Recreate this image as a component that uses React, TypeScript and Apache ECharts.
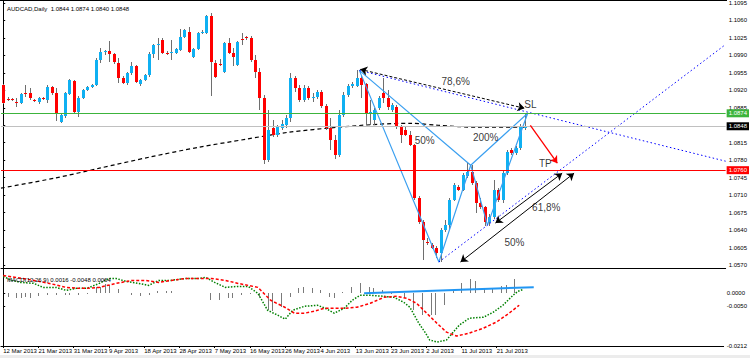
import React, { useEffect, useRef } from 'react';
import * as echarts from 'echarts';

const FONT = 'Liberation Sans, Arial, sans-serif';
const symbolTitle = 'AUDCAD,Daily  1.0844 1.0874 1.0840 1.0848';
const macdTitle = 'MACD(12,26,9) 0.0016 -0.0048 0.0064';

const dateLabels = ['12 Mar 2013', '21 Mar 2013', '31 Mar 2013', '9 Apr 2013', '18 Apr 2013', '28 Apr 2013', '7 May 2013', '16 May 2013', '26 May 2013', '4 Jun 2013', '13 Jun 2013', '23 Jun 2013', '2 Jul 2013', '11 Jul 2013', '21 Jul 2013'];
const dateTickIndex = [0, 8, 16, 24, 32, 40, 48, 56, 64, 72, 80, 88, 96, 104, 112];
const priceTicks = [1.0570, 1.0605, 1.0640, 1.0675, 1.0710, 1.0745, 1.0780, 1.0815, 1.0850, 1.0885, 1.0920, 1.0955, 1.0990, 1.1025, 1.1060, 1.1095];
const macdTicks = [0, -0.0050, -0.0212];

const opens = [1.0930, 1.0902, 1.0902, 1.0896, 1.0894, 1.0914, 1.0914, 1.0900, 1.0896, 1.0904,
  1.0900, 1.0926, 1.0914, 1.0856, 1.0868, 1.0912, 1.0938, 1.0876, 1.0904, 1.0920,
  1.0926, 1.0930, 1.0980, 1.0996, 1.0998, 1.0992, 1.0974, 1.0944, 1.0934, 1.0954,
  1.0968, 1.0932, 1.0940, 1.0950, 1.0992, 1.1010, 1.1020, 1.0994, 1.0994, 1.0994,
  1.1000, 1.1026, 1.1036, 1.0986, 1.1002, 1.1034, 1.1034, 1.1068, 1.0974, 1.0972,
  1.0956, 1.1014, 1.0994, 1.0970, 1.1022, 1.1026, 1.1024, 1.0980, 1.0956, 1.0904,
  1.0780, 1.0844, 1.0830, 1.0844, 1.0850, 1.0864, 1.0944, 1.0924, 1.0900, 1.0924,
  1.0904, 1.0906, 1.0916, 1.0888, 1.0844, 1.0820, 1.0790, 1.0870, 1.0910, 1.0928,
  1.0928, 1.0944, 1.0932, 1.0874, 1.0860, 1.0884, 1.0914, 1.0904, 1.0880, 1.0886,
  1.0846, 1.0840, 1.0830, 1.0810, 1.0704, 1.0656, 1.0616, 1.0610, 1.0604, 1.0594,
  1.0640, 1.0650, 1.0700, 1.0726, 1.0720, 1.0748, 1.0756, 1.0734, 1.0694, 1.0686,
  1.0656, 1.0666, 1.0720, 1.0700, 1.0754, 1.0800, 1.0794, 1.0804, 1.0844];
const closes = [1.0894, 1.0901, 1.0900, 1.0895, 1.0912, 1.0912, 1.0904, 1.0898, 1.0904, 1.0902,
  1.0926, 1.0914, 1.0874, 1.0870, 1.0914, 1.0940, 1.0876, 1.0904, 1.0920, 1.0926,
  1.0930, 1.0980, 1.0996, 1.0998, 1.0992, 1.0976, 1.0944, 1.0934, 1.0954, 1.0968,
  1.0936, 1.0940, 1.0950, 1.0992, 1.1010, 1.1012, 1.0994, 1.0993, 1.0996, 1.1002,
  1.1026, 1.1040, 1.0996, 1.1002, 1.1034, 1.1036, 1.1068, 1.0976, 1.0946, 1.0971,
  1.1014, 1.0994, 1.0986, 1.1016, 1.1021, 1.1024, 1.0980, 1.0956, 1.0904, 1.0780,
  1.0840, 1.0830, 1.0846, 1.0852, 1.0864, 1.0944, 1.0924, 1.0900, 1.0924, 1.0904,
  1.0906, 1.0916, 1.0888, 1.0844, 1.0820, 1.0790, 1.0870, 1.0910, 1.0928, 1.0932,
  1.0944, 1.0930, 1.0874, 1.0876, 1.0880, 1.0904, 1.0904, 1.0886, 1.0890, 1.0846,
  1.0830, 1.0830, 1.0810, 1.0704, 1.0656, 1.0620, 1.0615, 1.0604, 1.0594, 1.0640,
  1.0650, 1.0700, 1.0730, 1.0720, 1.0750, 1.0756, 1.0734, 1.0694, 1.0686, 1.0656,
  1.0666, 1.0720, 1.0700, 1.0754, 1.0796, 1.0794, 1.0804, 1.0846, 1.0848];
const lows = [1.0892, 1.0898, 1.0898, 1.0886, 1.0892, 1.0906, 1.0900, 1.0896, 1.0892, 1.0900,
  1.0894, 1.0910, 1.0858, 1.0854, 1.0864, 1.0910, 1.0874, 1.0866, 1.0902, 1.0918,
  1.0924, 1.0928, 1.0974, 1.0990, 1.0976, 1.0972, 1.0934, 1.0932, 1.0930, 1.0950,
  1.0934, 1.0928, 1.0938, 1.0946, 1.0984, 1.0980, 1.0992, 1.0990, 1.0980, 1.0992,
  1.0998, 1.1024, 1.0994, 1.0984, 1.1000, 1.1032, 1.1032, 1.0908, 1.0944, 1.0968,
  1.0954, 1.0992, 1.0968, 1.0968, 1.1010, 1.1020, 1.0976, 1.0944, 1.0880, 1.0772,
  1.0776, 1.0826, 1.0826, 1.0840, 1.0844, 1.0856, 1.0916, 1.0896, 1.0896, 1.0900,
  1.0896, 1.0902, 1.0884, 1.0840, 1.0800, 1.0782, 1.0786, 1.0866, 1.0906, 1.0924,
  1.0926, 1.0904, 1.0850, 1.0850, 1.0850, 1.0880, 1.0894, 1.0880, 1.0876, 1.0842,
  1.0814, 1.0828, 1.0808, 1.0700, 1.0652, 1.0580, 1.0610, 1.0602, 1.0584, 1.0576,
  1.0636, 1.0642, 1.0698, 1.0718, 1.0718, 1.0744, 1.0730, 1.0674, 1.0682, 1.0648,
  1.0648, 1.0662, 1.0696, 1.0694, 1.0750, 1.0790, 1.0790, 1.0800, 1.0840];
const highs = [1.0932, 1.0906, 1.0904, 1.0904, 1.0914, 1.0930, 1.0924, 1.0902, 1.0906, 1.0906,
  1.0930, 1.0928, 1.0924, 1.0874, 1.0916, 1.0942, 1.0940, 1.0908, 1.0922, 1.0928,
  1.0932, 1.0984, 1.1004, 1.1000, 1.1018, 1.0994, 1.0984, 1.0948, 1.0956, 1.0976,
  1.0970, 1.0942, 1.0952, 1.0996, 1.1012, 1.1024, 1.1024, 1.0998, 1.1020, 1.1004,
  1.1042, 1.1042, 1.1046, 1.1004, 1.1036, 1.1040, 1.1070, 1.1074, 1.0980, 1.0982,
  1.1016, 1.1024, 1.1004, 1.1018, 1.1034, 1.1028, 1.1028, 1.0990, 1.0964, 1.0910,
  1.0880, 1.0860, 1.0850, 1.0860, 1.0870, 1.0954, 1.0948, 1.0930, 1.0930, 1.0928,
  1.0914, 1.0920, 1.0920, 1.0892, 1.0864, 1.0830, 1.0880, 1.0916, 1.0932, 1.0936,
  1.0960, 1.0948, 1.0934, 1.0900, 1.0884, 1.0908, 1.0944, 1.0920, 1.0894, 1.0890,
  1.0850, 1.0846, 1.0838, 1.0812, 1.0708, 1.0660, 1.0624, 1.0614, 1.0608, 1.0644,
  1.0660, 1.0704, 1.0734, 1.0730, 1.0754, 1.0774, 1.0770, 1.0738, 1.0704, 1.0688,
  1.0672, 1.0740, 1.0724, 1.0760, 1.0800, 1.0804, 1.0808, 1.0852, 1.0874];

// moving average (dashed black) read at bar positions
const maPoints = [[-0.5, 1.0724], [11.6, 1.0744], [21.8, 1.0764], [33, 1.0786], [44.3, 1.0806], [54.9, 1.0822], [64.6, 1.0836], [75.8, 1.0846], [84.8, 1.0852], [92.3, 1.0854], [98.4, 1.0850], [107.4, 1.0846], [118, 1.0846]];

// harmonic pattern points X A B C D
const ptX = [80.6, 1.0960];
const ptA = [98.6, 1.0576];
const ptB = [105.8, 1.0770];
const ptC = [109.6, 1.0650];
const ptD = [118.7, 1.0874];
const extXEnd = [163.5, 1.0778];
const extAEnd = [163.5, 1.1012];

const levelSL = 1.0874;
const levelBid = 1.0848;
const levelTP = 1.0760;

const xdArrow = [[80.8, 1.0962], [118, 1.0884]];
const arrow618 = [[111.4, 1.0654], [126.5, 1.0754]];
const arrow50 = [[103.5, 1.0576], [129.2, 1.0754]];
const arrowTP = [[119.3, 1.0850], [125.4, 1.0774]];

const annotations = [
  { name: '78,6%', value: [102.4, 1.0938] },
  { name: 'SL', value: [119.3, 1.0892] },
  { name: '200%', value: [109.2, 1.0826] },
  { name: '50%', value: [95.4, 1.0819] },
  { name: 'TP', value: [122.7, 1.0774] },
  { name: '61,8%', value: [122.9, 1.0686] },
  { name: '50%', value: [115.7, 1.0616] },
];

const macdHist = [0, -0.0016, 0, -0.0020, -0.0020, -0.0016, -0.0020, 0, -0.0012, 0,
  -0.0008, 0, -0.0008, 0, -0.0008, -0.0008, 0, -0.0008, 0, -0.0004,
  0, 0.0024, 0.0024, 0.0036, 0.0032, 0, 0.0016, 0, 0.0002, -0.0008,
  0, -0.0012, 0, -0.0008, 0, 0.0008, 0, 0.0008, 0.0008, 0,
  0.0002, 0, 0, 0, 0.0002, 0.0002, 0, -0.0028, 0, -0.0028,
  0, -0.0020, -0.0020, 0, -0.0008, 0, -0.0004, 0, -0.0016, 0,
  -0.0068, -0.0072, 0, -0.0056, 0, -0.0016, 0, 0.0020, 0.0024, 0,
  0.0020, 0, 0.0012, 0, -0.0016, -0.0020, 0, 0.0004, 0, 0.0024,
  0, 0.0040, 0, 0.0024, 0.0020, 0, 0.0012, 0, -0.0004, 0,
  0, -0.0020, 0, -0.0068, 0, -0.0088, 0, -0.0088, -0.0088, 0,
  -0.0048, 0, 0.0012, 0, 0.0040, 0, 0.0056, 0.0048, 0, 0.0020,
  0, 0.0020, 0, 0.0028, 0.0032, 0, 0.0056, 0, 0];

const macdMain = [[0, 0.0068], [2, 0.0052], [4, 0.0044], [7, 0.0040], [9, 0.0024], [12, 0.0024], [14.3, 0.0012], [16.6, 0.0020], [19, 0.0020], [21.8, 0.0040], [24, 0.0060], [25.6, 0.0060], [27.9, 0.0048], [30.8, 0.0040], [33, 0.0032], [35.3, 0.0052], [38, 0.0052], [41.4, 0.0060], [44.3, 0.0060], [46, 0.0064], [48, 0.0044], [50.4, 0.0024], [53.3, 0.0028], [55.6, 0.0028], [57.8, 0], [60, -0.0068], [62.3, -0.0088], [64, -0.0104], [65.7, -0.0068], [68.4, -0.0052], [71.3, -0.0048], [73.1, -0.0060], [75.1, -0.0080], [77.4, -0.0060], [79.2, -0.0028], [81, -0.0008], [83.3, -0.0008], [86.4, -0.0012], [88.7, -0.0016], [90.9, -0.0036], [92.3, -0.0056], [94.3, -0.0120], [95.7, -0.0156], [96.8, -0.0188], [98.5, -0.0196], [100.6, -0.0188], [103.5, -0.0128], [105.8, -0.0100], [109, -0.0096], [111.2, -0.0076], [113.4, -0.0048], [115.7, -0.0008], [116.8, 0.0008], [118, 0.0016]];
const macdSignal = [[0, 0.0072], [3, 0.0064], [7, 0.0052], [10.5, 0.0040], [14.3, 0.0024], [17.3, 0.0020], [19, 0.0020], [21.8, 0.0024], [25.6, 0.0040], [29.2, 0.0052], [32.4, 0.0052], [35.3, 0.0044], [38.2, 0.0052], [41.4, 0.0060], [44.3, 0.0060], [47.2, 0.0060], [50.4, 0.0052], [53.3, 0.0040], [55.6, 0.0032], [57.8, 0.0024], [60.7, -0.0028], [63.9, -0.0056], [66.1, -0.0080], [68.4, -0.0080], [70.6, -0.0072], [72.9, -0.0060], [75.1, -0.0060], [77.4, -0.0060], [80.3, -0.0056], [83.3, -0.0040], [86.4, -0.0016], [89.3, -0.0012], [91.6, -0.0020], [93.8, -0.0040], [96.1, -0.0080], [98.4, -0.0120], [100.6, -0.0156], [102.9, -0.0172], [105.8, -0.0160], [109, -0.0140], [111.9, -0.0116], [114.8, -0.0080], [117.1, -0.0048]];
const macdTrend = [[81.9, 0.0000], [120.4, 0.0025]];

const BULL = '#0fb0f2';
const BEAR = '#ff0000';
const WICK = '#6e6e6e';
const PATTERN = '#3a9ff0';

function renderCandle(params: any, api: any) {
  const i = api.value(0);
  const o = api.value(1), c = api.value(2), l = api.value(3), h = api.value(4);
  const po = api.coord([i, o]);
  const pc = api.coord([i, c]);
  const pl = api.coord([i, l]);
  const ph = api.coord([i, h]);
  const x = Math.round(po[0]) + 0.5;
  const top = Math.round(Math.min(po[1], pc[1]));
  let bot = Math.round(Math.max(po[1], pc[1]));
  if (bot - top < 1) bot = top + 1;
  const col = c > o ? BULL : c < o ? BEAR : WICK;
  return {
    type: 'group',
    children: [
      { type: 'line', shape: { x1: x, y1: Math.round(ph[1]), x2: x, y2: Math.round(pl[1]) }, style: { stroke: WICK, lineWidth: 1 } },
      { type: 'rect', shape: { x: x - 1.5, y: top, width: 3, height: bot - top }, style: { fill: col } },
    ],
  };
}

function renderHist(params: any, api: any) {
  const i = api.value(0);
  const v = api.value(1);
  if (!v) return null;
  const p0 = api.coord([i, 0]);
  const p1 = api.coord([i, v]);
  const x = Math.round(p0[0]) + 0.5;
  return { type: 'line', shape: { x1: x, y1: Math.round(p0[1]), x2: x, y2: Math.round(p1[1]) }, style: { stroke: '#7a7a7a', lineWidth: 1 } };
}

function levelLine(value: number, color: string, bg: string) {
  return {
    yAxis: value,
    lineStyle: { color, type: 'solid', width: 1 },
    label: {
      show: true, position: 'end', distance: 1, formatter: () => value.toFixed(4),
      backgroundColor: bg, color: '#fff', fontSize: 6, fontFamily: FONT, padding: [1, 2, 1, 2],
    },
  };
}

function arrowPair(pts: number[][], color: string, type: any, width: number, startSym: string) {
  return [
    { coord: pts[0], symbol: startSym, lineStyle: { color, type, width } },
    { coord: pts[1], symbol: 'arrow' },
  ];
}

export default function App() {
  const ref = useRef<HTMLDivElement>(null);
  useEffect(() => {
    document.body.style.margin = '0';
    const chart = echarts.init(ref.current as HTMLDivElement, null, { renderer: 'svg' });
    const candleData = opens.map((o, i) => [i, o, closes[i], lows[i], highs[i]]);
    const histData = macdHist.map((v, i) => [i, v]);
    const axisText = { fontSize: 6, color: '#000', fontFamily: FONT };
    const option: any = {
      animation: false,
      backgroundColor: '#fff',
      title: [
        { text: symbolTitle, left: 2, top: 1, textStyle: { ...axisText, fontWeight: 'normal' } },
        { text: macdTitle, left: 2, top: 272, textStyle: { ...axisText, fontWeight: 'normal' } },
      ],
      grid: [
        { left: 1, top: 0, width: 726, height: 268, show: false },
        { left: 1, top: 269, width: 726, height: 77, show: false },
      ],
      xAxis: [
        {
          gridIndex: 0, type: 'value', min: -0.5, max: 163.5,
          axisLine: { show: true, onZero: false, lineStyle: { color: '#000', width: 1 } },
          axisTick: { show: false }, axisLabel: { show: false }, splitLine: { show: false },
        },
        {
          gridIndex: 1, type: 'value', min: -0.5, max: 163.5,
          axisLine: { show: true, onZero: false, lineStyle: { color: '#000', width: 1 } },
          axisTick: { show: true, length: 2, customValues: dateTickIndex, lineStyle: { color: '#000' } },
          axisLabel: {
            ...axisText, customValues: dateTickIndex, align: 'left', margin: 2,
            formatter: (v: number) => { const k = dateTickIndex.indexOf(Math.round(v)); return k >= 0 ? dateLabels[k] : ''; },
          },
          splitLine: { show: false },
        },
      ],
      yAxis: [
        {
          gridIndex: 0, type: 'value', position: 'right', min: 1.0564, max: 1.1100,
          axisLine: { show: true, lineStyle: { color: '#000' } },
          axisTick: { show: true, length: 2, customValues: priceTicks, lineStyle: { color: '#000' } },
          axisLabel: { ...axisText, customValues: priceTicks, margin: 3, formatter: (v: number) => v.toFixed(4) },
          splitLine: { show: false },
        },
        {
          gridIndex: 1, type: 'value', position: 'right', min: -0.0212, max: 0.0098,
          axisLine: { show: true, lineStyle: { color: '#000' } },
          axisTick: { show: true, length: 2, customValues: macdTicks, lineStyle: { color: '#000' } },
          axisLabel: { ...axisText, customValues: macdTicks, margin: 3, formatter: (v: number) => v.toFixed(4) },
          splitLine: { show: false },
        },
      ],
      graphic: [
        { type: 'line', shape: { x1: 0, y1: 0.5, x2: 727, y2: 0.5 }, style: { stroke: '#000', lineWidth: 1 } },
        { type: 'rect', shape: { x: 0, y: 355, width: 750, height: 3 }, style: { fill: '#ececec' } },
      ],
      series: [
        {
          name: 'ma', type: 'line', xAxisIndex: 0, yAxisIndex: 0, data: maPoints, smooth: 0.3,
          showSymbol: false, silent: true, z: 2,
          lineStyle: { color: '#000', width: 1.2, type: [4, 3] },
          markLine: {
            silent: true, symbol: 'none', animation: false, precision: 4,
            data: [levelLine(levelSL, '#3cb43c', '#3cb43c'), levelLine(levelBid, '#c0c0c0', '#000'), levelLine(levelTP, '#ff0000', '#ff0000')],
          },
        },
        {
          name: 'candles', type: 'custom', xAxisIndex: 0, yAxisIndex: 0, data: candleData,
          renderItem: renderCandle, encode: { x: 0, y: [1, 2, 3, 4] }, z: 3, silent: true,
        },
        {
          name: 'xab', type: 'line', xAxisIndex: 0, yAxisIndex: 0, data: [ptX, ptA, ptB, ptX],
          showSymbol: false, silent: true, z: 4, lineStyle: { color: PATTERN, width: 1.2 },
        },
        {
          name: 'bcd', type: 'line', xAxisIndex: 0, yAxisIndex: 0, data: [ptB, ptC, ptD, ptB],
          showSymbol: false, silent: true, z: 4, lineStyle: { color: PATTERN, width: 1.2 },
        },
        {
          name: 'extX', type: 'line', xAxisIndex: 0, yAxisIndex: 0, data: [ptX, extXEnd],
          showSymbol: false, silent: true, z: 4, lineStyle: { color: '#0000ff', width: 1, type: [1.5, 2.5] },
          markLine: {
            silent: true, animation: false, symbolSize: 7, precision: 4, label: { show: false },
            data: [
              arrowPair(xdArrow, '#000', [3, 2], 1, 'arrow'),
              arrowPair(arrow618, '#000', 'solid', 1, 'arrow'),
              arrowPair(arrow50, '#000', 'solid', 1, 'arrow'),
              arrowPair(arrowTP, '#ff0000', 'solid', 1.3, 'none'),
            ],
          },
        },
        {
          name: 'extA', type: 'line', xAxisIndex: 0, yAxisIndex: 0, data: [ptA, extAEnd],
          showSymbol: false, silent: true, z: 4, lineStyle: { color: '#0000ff', width: 1, type: [1.5, 2.5] },
        },
        {
          name: 'notes', type: 'scatter', xAxisIndex: 0, yAxisIndex: 0, data: annotations,
          symbolSize: 0.1, itemStyle: { color: 'transparent' }, silent: true, z: 6,
          label: { show: true, position: 'inside', formatter: '{b}', color: '#000', fontSize: 10, fontFamily: FONT },
        },
        {
          name: 'hist', type: 'custom', xAxisIndex: 1, yAxisIndex: 1, data: histData,
          renderItem: renderHist, encode: { x: 0, y: 1 }, silent: true, z: 2,
        },
        {
          name: 'main', type: 'line', xAxisIndex: 1, yAxisIndex: 1, data: macdMain, showSymbol: false, silent: true,
          lineStyle: { color: '#008000', width: 1.5, type: [1.5, 1.5] }, z: 3,
        },
        {
          name: 'signal', type: 'line', xAxisIndex: 1, yAxisIndex: 1, data: macdSignal, showSymbol: false, silent: true,
          lineStyle: { color: '#ff0000', width: 1.5, type: [3, 2] }, z: 3,
        },
        {
          name: 'trend', type: 'line', xAxisIndex: 1, yAxisIndex: 1, data: macdTrend, showSymbol: false, silent: true,
          lineStyle: { color: '#2196f3', width: 2 }, z: 4,
        },
      ],
    };
    chart.setOption(option);
    return () => chart.dispose();
  }, []);
  return <div ref={ref} style={{ width: 750, height: 358 }} />;
}
